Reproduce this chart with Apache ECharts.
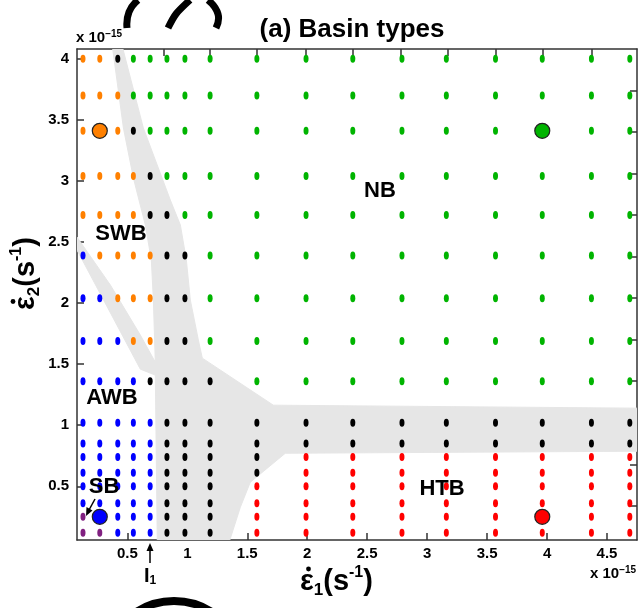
<!DOCTYPE html>
<html><head><meta charset="utf-8">
<script src="https://cdn.jsdelivr.net/npm/echarts@6/dist/echarts.min.js"></script>
<style>html,body{margin:0;padding:0;background:#fff}#c{width:642px;height:608px}</style>
</head><body><div id="c"></div>
<script>
// ---- data ----
const xCols = [0.13, 0.27, 0.42, 0.55, 0.69, 0.83, 0.98, 1.19, 1.58, 1.99, 2.38, 2.79, 3.16, 3.57, 3.96, 4.37, 4.69];
const yRows = [4.00, 3.70, 3.41, 3.04, 2.72, 2.39, 2.04, 1.69, 1.36, 1.02, 0.85, 0.74, 0.61, 0.50, 0.36, 0.25, 0.12];
// basin type per row (one letter per column): O=SWB, G=NB, B=AWB, R=HTB, K=boundary, P=SB
const basinRows = [
  "OOKGGGGGGGGGGGGGG",
  "OOOGGGGGGGGGGGGGG",
  "OOOKGGGGGGGGGGGGG",
  "OOOOKGGGGGGGGGGGG",
  "OOOOKKGGGGGGGGGGG",
  "BOOOOKKGGGGGGGGGG",
  "BBOOOKKGGGGGGGGGG",
  "BBBOOKKGGGGGGGGGG",
  "BBBBKKKKGGGGGGGGG",
  "BBBBBKKKKKKKKKKKK",
  "BBBBBKKKKKKKKKKKK",
  "BBBBBKKKKRRRRRRRR",
  "BBBBBKKKKRRRRRRRR",
  "BBBBBKKKRRRRRRRRR",
  "BBBBBKKKRRRRRRRRR",
  "PBBBBKKKRRRRRRRRR",
  "PPBBBKKKRRRRRRRRR"
];
const basinKeys = ["O", "G", "B", "R", "K", "P"];
const highlightX = [0.27, 3.96, 3.96, 0.27];
const highlightY = [3.41, 3.41, 0.25, 0.25];
const highlightKey = ["O", "G", "R", "B"];
// grey region outline (data coordinates)
const grayX = [0.375, 0.458, 0.633, 0.858, 0.942, 0.992, 1.025, 1.092, 1.125, 1.717, 4.80, 4.80, 1.817, 1.525, 1.442, 1.335, 0.75, 0.733, 0.608, 0.08, 0.08, 0.358, 0.608, 0.733, 0.717, 0.70, 0.65, 0.55, 0.467];
const grayY = [4.10, 4.10, 3.434, 2.844, 2.639, 2.352, 2.025, 1.697, 1.549, 1.164, 1.139, 0.787, 0.770, 0.533, 0.328, 0.0, 0.0, 1.41, 1.459, 2.434, 2.54, 2.148, 1.738, 1.516, 2.025, 2.352, 2.639, 3.025, 3.434];
const xTicks = [0.5, 1, 1.5, 2, 2.5, 3, 3.5, 4, 4.5];
const yTicks = [0.5, 1, 1.5, 2, 2.5, 3, 3.5, 4];
const topTicks = [0.40, 0.80, 1.19, 1.58, 1.99, 2.38, 2.78, 3.17, 3.57, 3.96, 4.37];
const rightTicks = [0.34, 0.68, 1.02, 1.36, 1.70, 2.04, 2.38, 2.72, 3.06, 3.40, 3.74];

// ---- styles ----
const colorOf = {O: "#ff8000", G: "#00b400", B: "#0000ff", R: "#ff0000", K: "#000000", P: "#802080"};
const FONT = "'Liberation Sans', Arial, Helvetica, sans-serif";
const AX = "#333";

const chart = echarts.init(document.getElementById("c"), null, {renderer: "canvas"});

const dotSeries = basinKeys.map(k => {
  const pts = [];
  basinRows.forEach((row, r) => {
    for (let c = 0; c < row.length; c++) if (row[c] === k) pts.push([xCols[c], yRows[r]]);
  });
  return {
    type: "scatter", xAxisIndex: 0, yAxisIndex: 0, data: pts, symbol: "circle", symbolSize: [5, 8],
    itemStyle: {color: colorOf[k], opacity: 1}, z: 3, silent: true, animation: false
  };
});

const bigSeries = highlightKey.map((k, i) => ({
  type: "scatter", xAxisIndex: 0, yAxisIndex: 0, data: [[highlightX[i], highlightY[i]]],
  symbol: "circle", symbolSize: 15,
  itemStyle: {color: colorOf[k], borderColor: "#222", borderWidth: 1.2, opacity: 1}, z: 5, silent: true, animation: false
}));

const graySeries = {
  type: "custom", xAxisIndex: 0, yAxisIndex: 0, data: [[1, 1]], clip: true, z: 1, silent: true, animation: false,
  renderItem: (params, api) => {
    const pts = grayX.map((x, i) => api.coord([x, grayY[i]]));
    return {type: "polygon", shape: {points: pts}, style: {fill: "#e6e6e6", stroke: "#e6e6e6", lineWidth: 1}};
  }
};

const axisCommon = {
  type: "value", axisLine: {show: true, onZero: false, lineStyle: {color: AX, width: 1.5}},
  splitLine: {show: false}, axisTick: {show: true, inside: true, length: 7, lineStyle: {color: AX, width: 1.5}}
};

const labelStyle = {color: "#000", fontFamily: FONT, fontWeight: "bold", fontSize: 15};
const rich = {
  e: {fontSize: 29, fontWeight: "bold", fontFamily: FONT, color: "#000", lineHeight: 34},
  sub: {fontSize: 17, fontWeight: "bold", fontFamily: FONT, color: "#000", verticalAlign: "bottom", lineHeight: 16},
  sup: {fontSize: 16, fontWeight: "bold", fontFamily: FONT, color: "#000", verticalAlign: "top", lineHeight: 16}
};
const richSmall = {
  m: {fontSize: 15, fontWeight: "bold", fontFamily: FONT, color: "#000", lineHeight: 18},
  s: {fontSize: 10, fontWeight: "bold", fontFamily: FONT, color: "#000", verticalAlign: "top", lineHeight: 10}
};
const bigText = (txt, x, y) => ({type: "text", x: x, y: y, style: {text: txt, fill: "#000", font: "bold 22px " + FONT, textAlign: "center", textVerticalAlign: "middle"}, z: 10});
const axisTitle = (sub, x, y, rot) => ({
  type: "group", x: x, y: y, rotation: rot, children: [
    {type: "text", x: 0, y: 0, style: {text: "{e|\u03b5}{sub|" + sub + "}{e|(s}{sup|-1}{e|)}", rich: rich, textAlign: "left", textVerticalAlign: "middle"}},
    {type: "circle", shape: {cx: 8.5, cy: -13, r: 2.4}, style: {fill: "#000"}}
  ]
});

chart.setOption({
  animation: false,
  backgroundColor: "#fff",
  grid: {left: 77, right: 5, top: 49, bottom: 68, containLabel: false},
  xAxis: [
    Object.assign({}, axisCommon, {position: "bottom", min: 0.08, max: 4.75,
      axisTick: Object.assign({}, axisCommon.axisTick, {customValues: xTicks}),
      axisLabel: Object.assign({}, labelStyle, {customValues: xTicks, margin: 6})}),
    Object.assign({}, axisCommon, {position: "top", min: 0.08, max: 4.75,
      axisTick: Object.assign({}, axisCommon.axisTick, {customValues: topTicks}),
      axisLabel: {show: false}})
  ],
  yAxis: [
    Object.assign({}, axisCommon, {position: "left", min: 0.06, max: 4.08,
      axisTick: Object.assign({}, axisCommon.axisTick, {customValues: yTicks}),
      axisLabel: Object.assign({}, labelStyle, {customValues: yTicks, margin: 8})}),
    Object.assign({}, axisCommon, {position: "right", min: 0.06, max: 4.08,
      axisTick: Object.assign({}, axisCommon.axisTick, {customValues: rightTicks}),
      axisLabel: {show: false}})
  ],
  series: [graySeries].concat(dotSeries, bigSeries),
  graphic: [
    {type: "text", x: 352, y: 30, style: {text: "(a) Basin types", fill: "#000", font: "bold 26px " + FONT, textAlign: "center", textVerticalAlign: "middle"}},
    {type: "text", x: 76, y: 38, style: {text: "{m|x 10}{s|\u221215}", rich: richSmall, textAlign: "left", textVerticalAlign: "middle"}},
    {type: "text", x: 590, y: 574, style: {text: "{m|x 10}{s|\u221215}", rich: richSmall, textAlign: "left", textVerticalAlign: "middle"}},
    axisTitle("1", 300, 582, 0),
    axisTitle("2", 26, 310, Math.PI / 2),
    bigText("NB", 380, 191),
    bigText("SWB", 121, 234),
    bigText("AWB", 112, 398),
    bigText("SB", 104, 487),
    bigText("HTB", 442, 489),
    {type: "text", x: 150, y: 576, style: {text: "{e|I}{sub|1}", rich: {e: {fontSize: 20, fontWeight: "bold", fontFamily: FONT, color: "#000", lineHeight: 22}, sub: {fontSize: 12, fontWeight: "bold", fontFamily: FONT, color: "#000", verticalAlign: "bottom", lineHeight: 12}}, textAlign: "center", textVerticalAlign: "middle"}},
    {type: "line", shape: {x1: 150, y1: 563, x2: 150, y2: 547}, style: {stroke: "#000", lineWidth: 1.5}},
    {type: "polygon", shape: {points: [[150, 543], [146.5, 551], [153.5, 551]]}, style: {fill: "#000"}},
    {type: "line", shape: {x1: 95, y1: 499, x2: 89, y2: 510}, style: {stroke: "#000", lineWidth: 1.5}},
    {type: "polygon", shape: {points: [[86, 516], [86.5, 507], [92.5, 510.5]]}, style: {fill: "#000"}},
    {type: "circle", shape: {cx: 174, cy: 670, r: 69}, style: {fill: null, stroke: "#000", lineWidth: 8}},
    {type: "polyline", shape: {points: [[138, 0], [129, 12], [127, 28]], smooth: 0.5}, style: {stroke: "#000", lineWidth: 7, fill: null}},
    {type: "polyline", shape: {points: [[190, 0], [176, 14], [168, 28]], smooth: 0.3}, style: {stroke: "#000", lineWidth: 7, fill: null}},
    {type: "polyline", shape: {points: [[208, 0], [218, 14], [216, 28]], smooth: 0.5}, style: {stroke: "#000", lineWidth: 7, fill: null}}
  ]
});
</script></body></html>
